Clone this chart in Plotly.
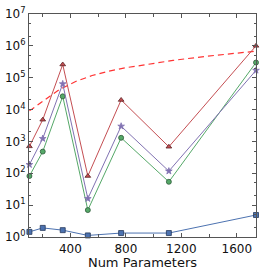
import plotly.graph_objects as go

x_vals = [105, 201, 345, 526, 766, 1110, 1738]
blue_sq = [1.45, 1.93, 1.64, 1.12, 1.33, 1.33, 4.9]
red_tri = [700, 4800, 2.6e5, 82, 2.0e4, 680, 1.0e6]
purple_star = [187, 1230, 6.4e4, 16, 3000, 117, 1.7e5]
green_circ = [82, 480, 2.6e4, 7.0, 1300, 54, 3.0e5]

dash_x = [105, 224, 319, 438, 557, 676, 795, 902, 1140, 1379, 1688, 1738]
dash_y = [9100, 2.08e4, 4.2e4, 7.6e4, 1.17e5, 1.6e5, 2.05e5, 2.4e5, 3.5e5, 4.7e5, 6.4e5, 6.8e5]

y_tickvals = [1, 10, 100, 1e3, 1e4, 1e5, 1e6, 1e7]
y_ticktext = ["10<sup>%d</sup>" % i for i in range(8)]
x_tickvals = [400, 800, 1200, 1600]

fig = go.Figure()

def add(y, color, edge, symbol, size):
    fig.add_trace(go.Scatter(
        x=x_vals, y=y, mode="lines+markers",
        line=dict(color=color, width=1),
        marker=dict(symbol=symbol, size=size, color=color,
                    line=dict(color=edge, width=0.8)),
        showlegend=False, cliponaxis=False))

fig.add_trace(go.Scatter(x=dash_x, y=dash_y, mode="lines",
                         line=dict(color="#ff3333", width=1.2, dash="6px,4px"),
                         showlegend=False))
add(green_circ, "#55A868", "#2d5a38", "circle", 5)
add(purple_star, "#8172B2", "#8172B2", "star", 5)
add(red_tri, "#C44E52", "#5a2224", "triangle-up", 5)
add(blue_sq, "#4C72B0", "#26395a", "square", 5)

axis_common = dict(showline=True, linecolor="#555555", linewidth=1.2,
                   mirror="ticks", ticks="inside", tickcolor="#555555",
                   showgrid=False, zeroline=False)

fig.update_xaxes(range=[102, 1738], tickvals=x_tickvals, ticklen=4,
                 minor=dict(dtick=200, tick0=0, ticks="inside", ticklen=3,
                            tickcolor="#555555", showgrid=False),
                 title=dict(text="Num Parameters", standoff=2,
                            font=dict(size=13, color="#111")),
                 tickfont=dict(size=12, color="#111"), **axis_common)
fig.update_yaxes(type="log", range=[0, 7], tickvals=y_tickvals,
                 ticktext=y_ticktext, ticklen=4,
                 minor=dict(ticks="inside", ticklen=2, tickcolor="#555555",
                            showgrid=False),
                 tickfont=dict(size=12, color="#111"), **axis_common)

fig.update_layout(width=262, height=273,
                  margin=dict(l=29, r=5, t=9, b=36),
                  paper_bgcolor="white", plot_bgcolor="white",
                  font=dict(family="DejaVu Sans", color="#111"))

fig.write_html("out.html", config={"displayModeBar": False},
               post_script="document.body.style.margin='0';document.body.style.overflow='hidden';")
